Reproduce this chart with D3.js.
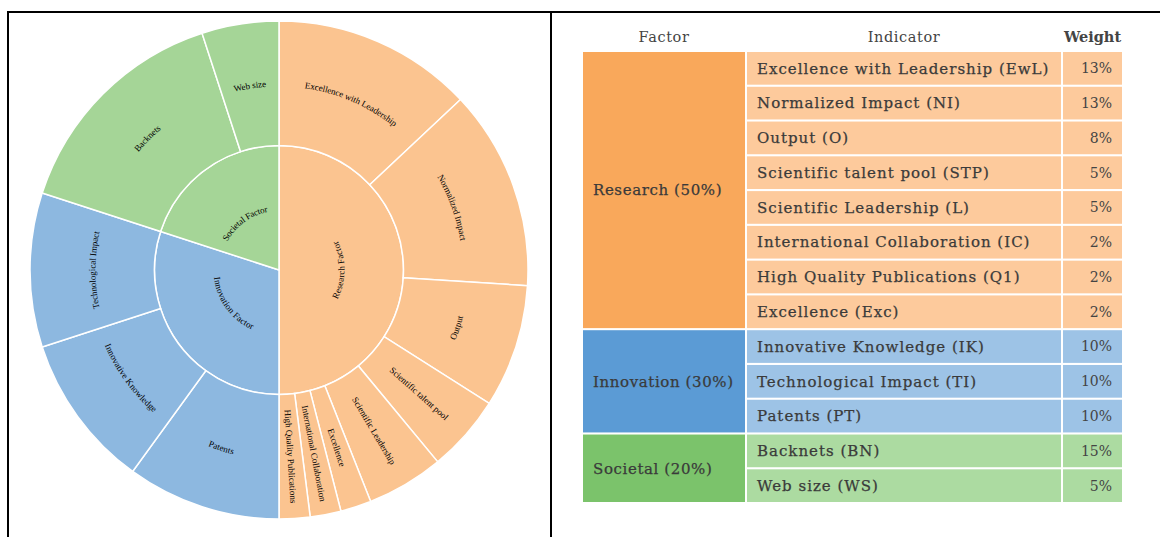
<!DOCTYPE html>
<html>
<head>
<meta charset="utf-8">
<script src="https://cdn.jsdelivr.net/npm/d3@7"></script>
<style>
  body { margin: 0; background: #fff; }
  svg { display: block; }
</style>
</head>
<body>
<script>
// top level factors
var factorNames = ["Research", "Innovation", "Societal"];
var factorRingLabels = ["Research Factor", "Innovation Factor", "Societal Factor"];
var factorWeights = [50, 30, 20];

// indicators, in table order
var indicatorNames = ["Excellence with Leadership", "Normalized Impact", "Output", "Scientific talent pool",
  "Scientific Leadership", "International Collaboration", "High Quality Publications", "Excellence",
  "Innovative Knowledge", "Technological Impact", "Patents", "Backnets", "Web size"];
var indicatorCodes = ["EwL", "NI", "O", "STP", "L", "IC", "Q1", "Exc", "IK", "TI", "PT", "BN", "WS"];
var indicatorWeights = [13, 13, 8, 5, 5, 2, 2, 2, 10, 10, 10, 15, 5];
var indicatorFactor = [0, 0, 0, 0, 0, 0, 0, 0, 1, 1, 1, 2, 2];

// outer ring order, clockwise from 12 o'clock
var ringOrder = ["EwL", "NI", "O", "STP", "L", "Exc", "IC", "Q1", "PT", "IK", "TI", "BN", "WS"];

var headers = ["Factor", "Indicator", "Weight"];

var ringColors = ["#fbc490", "#8db8e0", "#a5d597"];
var factorCellColors = ["#f9a85b", "#5b9bd5", "#7bc36b"];
var indicatorCellColors = ["#fdca9c", "#9dc3e6", "#acdba1"];

var W = 1160, H = 537;
var svg = d3.select("body").append("svg").attr("width", W).attr("height", H);

// frame lines
svg.append("path")
  .attr("d", "M8,537V12H1160M551,12V537")
  .attr("fill", "none").attr("stroke", "#000").attr("stroke-width", 2);

// ---------- sunburst ----------
var cx = 279, cy = 270, R = 249;

var tree = {
  name: "root",
  children: factorNames.map(function (f, i) {
    return {
      name: factorRingLabels[i], fi: i,
      children: ringOrder.filter(function (c) {
        return indicatorFactor[indicatorCodes.indexOf(c)] === i;
      }).map(function (c) {
        var k = indicatorCodes.indexOf(c);
        return { name: indicatorNames[k], fi: i, value: indicatorWeights[k] };
      })
    };
  })
};

var root = d3.hierarchy(tree).sum(function (d) { return d.value || 0; });
d3.partition().size([2 * Math.PI, 3])(root);

var rScale = d3.scaleLinear().domain([1, 3]).range([0, R]);

var arc = d3.arc()
  .startAngle(function (d) { return d.x0; })
  .endAngle(function (d) { return d.x1; })
  .innerRadius(function (d) { return rScale(d.y0); })
  .outerRadius(function (d) { return rScale(d.y1); });

var g = svg.append("g").attr("transform", "translate(" + cx + "," + cy + ")");
var nodes = root.descendants().filter(function (d) { return d.depth > 0; });

g.selectAll("path.slice").data(nodes).enter()
  .append("path")
  .attr("class", "slice")
  .attr("d", arc)
  .attr("fill", function (d) { return ringColors[d.data.fi]; })
  .attr("stroke", "#fff")
  .attr("stroke-width", 1.5);

var labelFont = "Liberation Serif, Times New Roman, serif";

nodes.forEach(function (d, i) {
  var a = (d.x0 + d.x1) / 2;
  var deg = a * 180 / Math.PI;
  var rm = rScale((d.y0 + d.y1) / 2);
  var arcLen = (d.x1 - d.x0) * rm;

  var t = g.append("text")
    .attr("font-family", labelFont)
    .attr("font-size", 9)
    .attr("fill", "#000")
    .attr("text-anchor", "middle")
    .attr("dy", "0.35em");

  // measure first
  t.text(d.data.name);
  var len = t.node().getComputedTextLength();

  if (len < arcLen - 6) {
    // curved text along the ring
    t.text(null);
    var flip = deg > 89.9 && deg < 269.9;
    var a0 = flip ? d.x1 : d.x0, a1 = flip ? d.x0 : d.x1;
    var p0 = [rm * Math.sin(a0), -rm * Math.cos(a0)];
    var p1 = [rm * Math.sin(a1), -rm * Math.cos(a1)];
    var large = (d.x1 - d.x0) > Math.PI ? 1 : 0;
    var id = "lp" + i;
    g.append("path")
      .attr("id", id)
      .attr("fill", "none")
      .attr("d", "M" + p0[0] + "," + p0[1] + "A" + rm + "," + rm + " 0 " + large + " " + (flip ? 0 : 1) + " " + p1[0] + "," + p1[1]);
    t.append("textPath")
      .attr("href", "#" + id)
      .attr("startOffset", "50%")
      .text(d.data.name);
  } else {
    // radial text
    t.attr("transform", "rotate(" + (deg - 90) + ") translate(" + rm + ",0)" + (deg > 180 ? " rotate(180)" : ""));
  }
});

// ---------- table ----------
var tableFont = "DejaVu Serif, serif";
var colX = [583, 747, 1063];
var colW = [162, 314, 59];

var row = d3.scaleBand().domain(indicatorCodes).range([52, 502]).paddingInner(0.06);

var tg = svg.append("g");

tg.selectAll("text.hdr").data(headers).enter()
  .append("text")
  .attr("class", "hdr")
  .attr("x", function (d, i) { return colX[i] + colW[i] / 2; })
  .attr("y", 42)
  .attr("text-anchor", "middle")
  .attr("font-family", tableFont)
  .attr("font-size", 14.5)
  .attr("letter-spacing", function (d, i) { return i === 2 ? 0 : 0.6; })
  .attr("font-weight", function (d, i) { return i === 2 ? "bold" : "normal"; })
  .attr("fill", "#444")
  .text(function (d) { return d; });

// factor cells (merged)
factorNames.forEach(function (f, i) {
  var codes = indicatorCodes.filter(function (c, k) { return indicatorFactor[k] === i; });
  var y0 = row(codes[0]);
  var y1 = row(codes[codes.length - 1]) + row.bandwidth();
  tg.append("rect")
    .attr("x", colX[0]).attr("y", y0)
    .attr("width", colW[0]).attr("height", y1 - y0)
    .attr("fill", factorCellColors[i]);
  tg.append("text")
    .attr("x", colX[0] + 10)
    .attr("y", (y0 + y1) / 2)
    .attr("dy", "0.35em")
    .attr("font-family", tableFont)
    .attr("font-size", 15)
    .attr("letter-spacing", 0.6)
    .attr("fill", "#3a3a3a")
    .attr("stroke", "#3a3a3a")
    .attr("stroke-width", 0.25)
    .text(f + " (" + factorWeights[i] + "%)");
});

var rows = tg.selectAll("g.row").data(indicatorCodes).enter()
  .append("g").attr("class", "row");

rows.append("rect")
  .attr("x", colX[1]).attr("y", function (d) { return row(d); })
  .attr("width", colW[1]).attr("height", row.bandwidth())
  .attr("fill", function (d, k) { return indicatorCellColors[indicatorFactor[k]]; });

rows.append("rect")
  .attr("x", colX[2]).attr("y", function (d) { return row(d); })
  .attr("width", colW[2]).attr("height", row.bandwidth())
  .attr("fill", function (d, k) { return indicatorCellColors[indicatorFactor[k]]; });

rows.append("text")
  .attr("x", colX[1] + 10)
  .attr("y", function (d) { return row(d) + row.bandwidth() / 2; })
  .attr("dy", "0.35em")
  .attr("font-family", tableFont)
  .attr("font-size", 15)
  .attr("letter-spacing", 1)
  .attr("fill", "#3a3a3a")
  .attr("stroke", "#3a3a3a")
  .attr("stroke-width", 0.25)
  .text(function (d, k) { return indicatorNames[k] + " (" + d + ")"; });

rows.append("text")
  .attr("x", colX[2] + colW[2] - 10)
  .attr("y", function (d) { return row(d) + row.bandwidth() / 2; })
  .attr("dy", "0.35em")
  .attr("text-anchor", "end")
  .attr("font-family", tableFont)
  .attr("font-size", 14)
  .attr("fill", "#444")
  .text(function (d, k) { return indicatorWeights[k] + "%"; });
</script>
</body>
</html>
